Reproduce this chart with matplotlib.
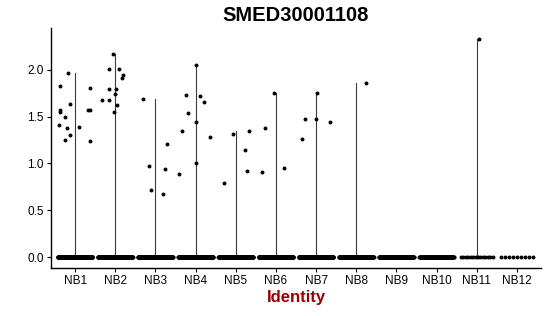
import matplotlib
matplotlib.use("Agg")
import matplotlib.pyplot as plt
import numpy as np

plt.rcParams["font.family"] = ["Liberation Sans", "DejaVu Sans"]

# clusters and data
groups = ["NB1", "NB2", "NB3", "NB4", "NB5", "NB6", "NB7", "NB8", "NB9", "NB10", "NB11", "NB12"]

# number of cells with zero expression per cluster (dense band at 0)
zero_counts = [300, 300, 300, 300, 300, 260, 260, 260, 220, 120, 14, 9]

# nonzero cells: (jitter offset, expression)
nb1_jit = [-0.38, -0.18, -0.37, -0.38, -0.26, -0.13, -0.40, -0.21, -0.12, -0.24, 0.10, 0.37, 0.31, 0.37, 0.37]
nb1_val = [1.83, 1.97, 1.57, 1.55, 1.50, 1.64, 1.41, 1.38, 1.30, 1.25, 1.39, 1.81, 1.57, 1.57, 1.24]
nb2_jit = [-0.05, -0.15, 0.09, 0.19, 0.17, -0.15, 0.02, -0.01, -0.33, -0.16, 0.04, -0.02]
nb2_val = [2.17, 2.01, 2.01, 1.95, 1.91, 1.79, 1.79, 1.74, 1.68, 1.68, 1.62, 1.55]
nb3_jit = [-0.32, 0.29, -0.15, -0.12, 0.24, 0.19]
nb3_val = [1.69, 1.21, 0.97, 0.72, 0.94, 0.67]
nb4_jit = [0.0, -0.24, 0.10, 0.22, -0.18, 0.0, -0.33, 0.35, -0.41, 0.0]
nb4_val = [2.05, 1.73, 1.72, 1.66, 1.54, 1.44, 1.35, 1.28, 0.89, 1.00]
nb5_jit = [-0.06, 0.32, 0.22, 0.27, -0.29]
nb5_val = [1.31, 1.35, 1.14, 0.92, 0.79]
nb6_jit = [-0.06, -0.26, -0.34, 0.20]
nb6_val = [1.75, 1.38, 0.91, 0.95]
nb7_jit = [0.02, -0.28, -0.01, 0.34, -0.36]
nb7_val = [1.75, 1.47, 1.48, 1.44, 1.26]
nb8_jit = [0.25]
nb8_val = [1.86]
nb11_jit = [0.05]
nb11_val = [2.33]

nonzero_jit = [nb1_jit, nb2_jit, nb3_jit, nb4_jit, nb5_jit, nb6_jit, nb7_jit, nb8_jit, [], [], nb11_jit, []]
nonzero_val = [nb1_val, nb2_val, nb3_val, nb4_val, nb5_val, nb6_val, nb7_val, nb8_val, [], [], nb11_val, []]

fig = plt.figure(figsize=(5.5, 3.16), dpi=100)
ax = fig.add_axes([0.0927, 0.152, 0.891, 0.7594])

for i, g in enumerate(groups):
    vals = nonzero_val[i]
    # collapsed violin: only a vertical line from 0 to the max
    if vals:
        ax.plot([i, i], [0, max(vals)], color="#3a3a3a", lw=0.8, zorder=1)
    n0 = zero_counts[i]
    if n0 > 0:
        half = 0.43 if n0 > 50 else 0.4
        xs = i + np.linspace(-half, half, n0)
        ax.scatter(xs, np.zeros(n0), s=8, color="black", linewidths=0, zorder=2)
    if vals:
        ax.scatter(i + np.array(nonzero_jit[i]), vals, s=8, color="black", linewidths=0, zorder=3)

ax.set_xlim(-0.6, len(groups) - 0.4)
ax.set_ylim(-0.1165, 2.447)
ax.set_xticks(range(len(groups)))
ax.set_xticklabels(groups)
ax.set_yticks([0, 0.5, 1.0, 1.5, 2.0])
ax.set_yticklabels(["0.0", "0.5", "1.0", "1.5", "2.0"])
ax.tick_params(axis="both", labelsize=8.5, length=3, width=0.8, colors="black", pad=2)

for s in ["top", "right"]:
    ax.spines[s].set_visible(False)
for s in ["left", "bottom"]:
    ax.spines[s].set_linewidth(1.0)

ax.set_title("SMED30001108", fontsize=14.5, fontweight="bold", pad=5)
ax.set_xlabel("Identity", fontsize=12, fontweight="bold", color="#990000", labelpad=2)

fig.savefig("out.png", dpi=100)
